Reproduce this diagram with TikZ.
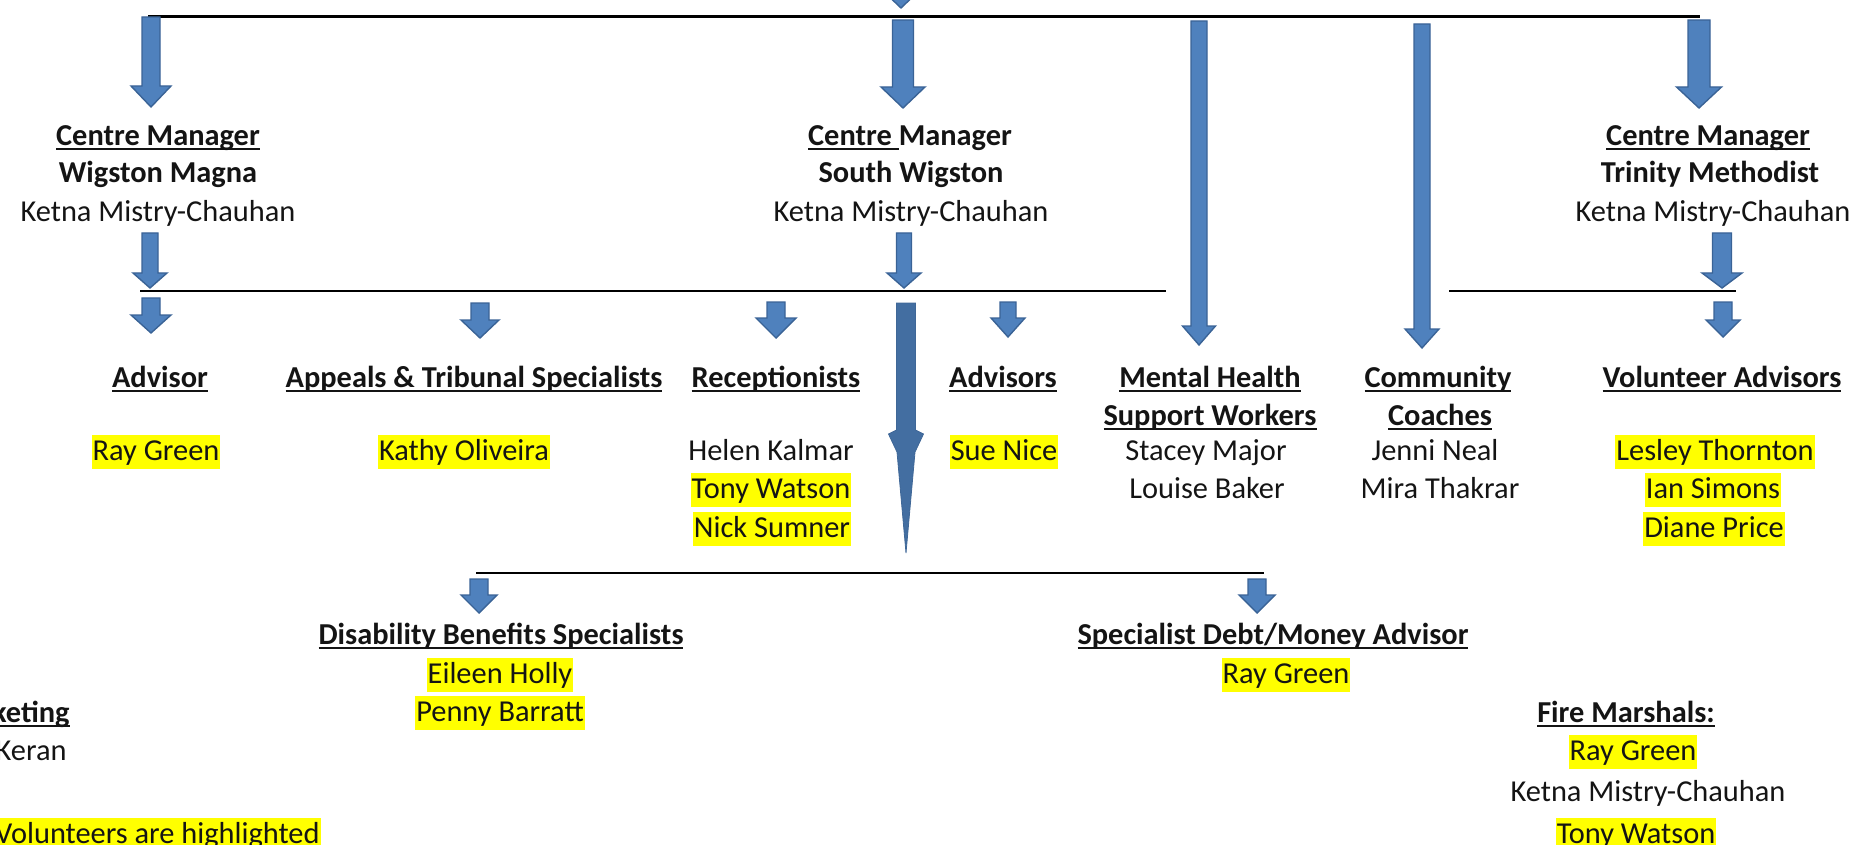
\documentclass[tikz,border=0pt]{standalone}
\usepackage{fontspec}
\setmainfont{Carlito}
\definecolor{arrowblue}{HTML}{4F81BD}
\definecolor{arrowedge}{HTML}{3A6396}
\definecolor{arrowlight}{HTML}{6A9AD6}
\definecolor{hlyellow}{HTML}{FFFF00}
\newsavebox\ulsave
\newcommand\uln[1]{\sbox\ulsave{#1}\rlap{\rule[-2.2pt]{\wd\ulsave}{1pt}}\usebox\ulsave}
\newcommand\blockarrow[6]{%
  \filldraw[barrow] ({#1-#5/2},#2) -- ({#1+#5/2},#2) -- ({#1+#5/2},#3) -- ({#1+#6/2},#3)
    -- (#1,#4) -- ({#1-#6/2},#3) -- ({#1-#5/2},#3) -- cycle;}
\tikzset{
  barrow/.style={fill=arrowblue, draw=arrowedge, line width=0.7pt, line join=miter},
  hline/.style={draw=black, line width=1.1pt},
  txt/.style={font=\fontsize{15.2}{18}\selectfont, inner xsep=0.5pt, inner ysep=0.25pt,
    text height=12.5pt, text depth=4pt, text=black!92},
  hd/.style={txt, font=\fontsize{15.2}{18}\selectfont\bfseries},
  hl/.style={txt, fill=hlyellow},
}
\begin{document}
\begin{tikzpicture}[x=0.5pt, y=-0.5pt]
\useasboundingbox (0,0) rectangle (1852,845);
\clip (0,0) rectangle (1852,845);

% ---------- connector lines ----------
\coordinate (t1) at (148,16.5);  \coordinate (t2) at (1700,16.5);
\coordinate (m1) at (140,291);   \coordinate (m2) at (1166,291);
\coordinate (r1) at (1449,291);  \coordinate (r2) at (1736,291);
\coordinate (b1) at (476,573);   \coordinate (b2) at (1264,573);
\draw[hline] (t1) -- (t2);
\draw[hline] (m1) -- (m2);
\draw[hline] (r1) -- (r2);
\draw[hline] (b1) -- (b2);

% ---------- arrows from top ----------
\blockarrow{901}{-40}{-13}{8}{20}{44}
\blockarrow{151}{17}{86}{107}{18}{40}
\blockarrow{903}{20}{87}{108}{21}{44}
\blockarrow{1199}{21}{326}{345}{16}{33}
\blockarrow{1422}{24}{329}{348}{16}{34}
\blockarrow{1699}{20}{87}{108}{22}{45}

% ---------- arrows from centre managers ----------
\blockarrow{150}{233}{273}{288}{16}{34}
\blockarrow{904}{233}{273}{288}{15}{34}
\blockarrow{1722}{233}{273}{288}{19}{40}

% ---------- arrows to roles ----------
\blockarrow{151}{298}{315}{333}{18}{40}
\blockarrow{480}{303}{320}{338}{18}{38}
\blockarrow{776}{302}{318}{338}{18}{40}
\blockarrow{1008}{302}{318}{337}{16}{34}
\blockarrow{1723}{302}{320}{337}{18}{34}

% ---------- long middle arrow ----------
\shadedraw[left color=arrowblue!85!black, middle color=arrowlight, right color=arrowblue!85!black,
  draw=arrowblue!80!black, line width=0.4pt]
  (896.5,303) -- (915.5,303) -- (915.5,430) -- (923.5,434) -- (915,452) -- (906,553)
  -- (897,452) -- (888.5,434) -- (896.5,430) -- cycle;

% ---------- bottom arrows ----------
\blockarrow{479}{579}{595}{613}{18}{36}
\blockarrow{1257}{579}{595}{613}{18}{36}

\begin{scope}[yshift=-1.2pt]
% ---------- centre managers ----------
\node[hd] (wm1) at (158,134.5) {\uln{Centre Manager}};
\node[hd] (wm2) at (158,172) {Wigston Magna};
\node[txt] (wm3) at (158,211) {Ketna Mistry-Chauhan};

\node[hd] (sw1) at (910,134.5) {\uln{Centre\ }Manager};
\node[hd] (sw2) at (911,172) {South Wigston};
\node[txt] (sw3) at (911,211) {Ketna Mistry-Chauhan};

\node[hd] (tm1) at (1708,134.5) {\uln{Centre Manager}};
\node[hd] (tm2) at (1710,172) {Trinity Methodist};
\node[txt] (tm3) at (1713,211) {Ketna Mistry-Chauhan};

% ---------- roles ----------
\node[hd] (adv) at (160,377) {\uln{Advisor}};
\node[hl] (adv1) at (156,450) {Ray Green};

\node[hd] (app) at (474,377) {\uln{Appeals \& Tribunal Specialists}};
\node[hl] (app1) at (464,450) {Kathy Oliveira};

\node[hd] (rec) at (776,377) {\uln{Receptionists}};
\node[txt] (rec1) at (771,450) {Helen Kalmar};
\node[hl] (rec2) at (771,488) {Tony Watson};
\node[hl] (rec3) at (772,527) {Nick Sumner};

\node[hd] (advs) at (1003,377) {\uln{Advisors}};
\node[hl] (advs1) at (1004,450) {Sue Nice};

\node[hd] (mh1) at (1210,377) {\uln{Mental Health}};
\node[hd] (mh2) at (1210,415) {\uln{Support Workers}};
\node[txt] (mh3) at (1206,450) {Stacey Major};
\node[txt] (mh4) at (1207,488) {Louise Baker};

\node[hd] (cc1) at (1438,377) {\uln{Community}};
\node[hd] (cc2) at (1440,415) {\uln{Coaches}};
\node[txt] (cc3) at (1435,450) {Jenni Neal};
\node[txt] (cc4) at (1440,488) {Mira Thakrar};

\node[hd] (va) at (1722,377) {\uln{Volunteer Advisors}};
\node[hl] (va1) at (1715,450) {Lesley Thornton};
\node[hl] (va2) at (1713,488) {Ian Simons};
\node[hl] (va3) at (1714,527) {Diane Price};

% ---------- specialists ----------
\node[hd] (dbs) at (501,634) {\uln{Disability Benefits Specialists}};
\node[hl] (dbs1) at (500,673) {Eileen Holly};
\node[hl] (dbs2) at (500,711) {Penny Barratt};

\node[hd] (sdm) at (1273,634) {\uln{Specialist Debt/Money Advisor}};
\node[hl] (sdm1) at (1286,673) {Ray Green};

% ---------- fire marshals ----------
\node[hd] (fm) at (1626,712) {\uln{Fire Marshals:}};
\node[hl] (fm1) at (1633,750) {Ray Green};
\node[txt] (fm2) at (1648,791) {Ketna Mistry-Chauhan};
\node[hl] (fm3) at (1636,833) {Tony Watson};

% ---------- left edge (cut off) ----------
\node[hd, anchor=east] (mk) at (71,712) {\uln{Marketing}};
\node[txt, anchor=east] (mk1) at (68,750) {Keran};
\node[hl, anchor=east] (key) at (321,833) {Volunteers are highlighted};
\end{scope}
\end{tikzpicture}
\end{document}
